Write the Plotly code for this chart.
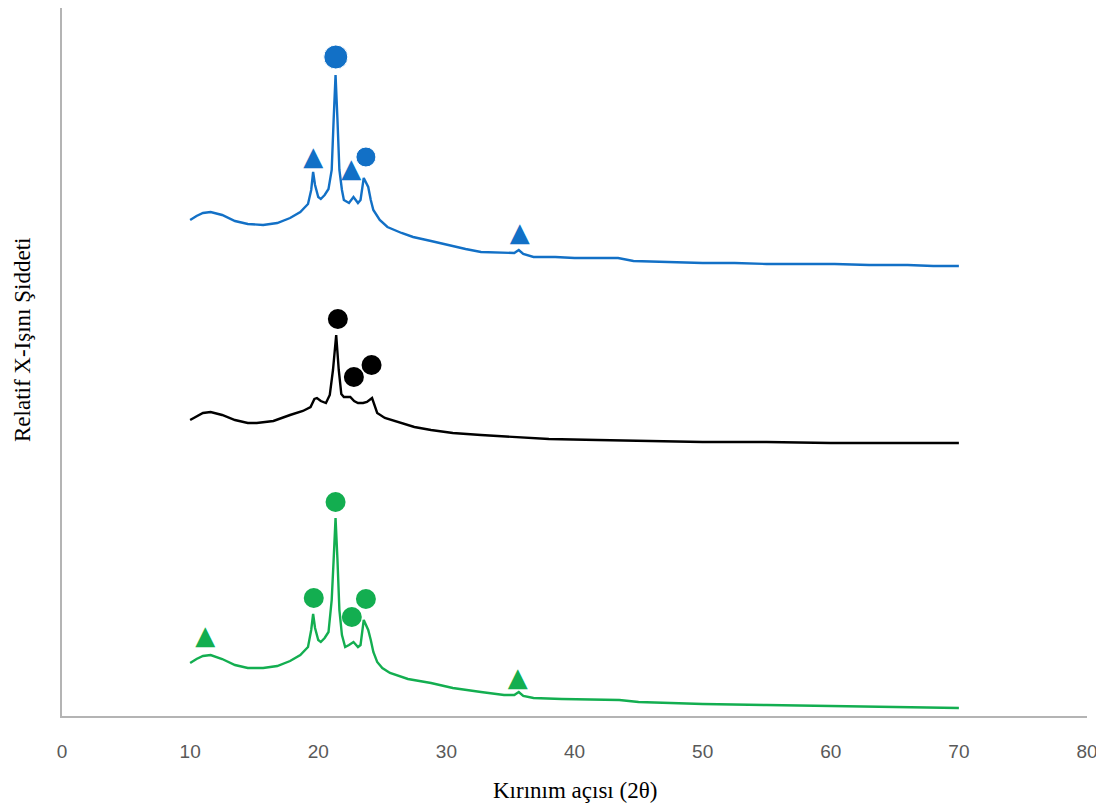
import plotly.graph_objects as go

# ---- Data (intensity in arbitrary offset units) ----
blue_x = [10.0, 10.5, 11.0, 11.6, 12.5, 13.5, 14.5, 15.7, 16.8, 17.8, 18.6, 19.2, 19.45, 19.6, 19.75,
          20.0, 20.2, 20.5, 20.8, 21.05, 21.2, 21.35, 21.5, 21.65, 21.85, 22.0, 22.4, 22.75, 23.1, 23.3,
          23.55, 23.9, 24.1, 24.3, 24.8, 25.4, 26.5, 27.4, 28.8, 30.1, 31.5, 32.7, 34.2, 35.3, 35.65,
          36.0, 36.8, 38.5, 40.0, 41.8, 43.4, 44.6, 47.0, 50.0, 52.5, 55.0, 58.0, 60.3, 63.0, 66.0, 68.0, 70.0]
blue_y = [496, 500, 503, 504, 501, 495, 492, 491, 493, 498, 504, 512, 526, 544, 531,
          519, 517, 521, 527, 546, 596, 641, 596, 546, 526, 516, 513, 519, 513, 516,
          538, 529, 516, 506, 496, 489, 483, 479, 475, 471, 467, 464, 463, 463, 466,
          462, 459, 459, 458, 458, 458, 455, 454, 453, 453, 452, 452, 452, 451, 451, 450, 450]

black_x = [10.0, 10.6, 11.0, 11.6, 12.5, 13.5, 14.5, 15.2, 16.5, 17.8, 18.8, 19.4, 19.7, 19.9, 20.2,
           20.6, 20.9, 21.15, 21.4, 21.6, 21.8, 22.0, 22.5, 22.8, 23.1, 23.5, 23.8, 24.2, 24.4, 24.6,
           25.2, 26.2, 27.5, 28.8, 30.5, 32.7, 35.6, 38.0, 41.8, 45.0, 50.0, 55.0, 60.0, 65.0, 70.0]
black_y = [296, 300, 303, 304, 301, 296, 293, 293, 295, 301, 305, 309, 317, 318, 315,
           313, 321, 346, 381, 346, 322, 319, 319, 315, 313, 313, 314, 318, 311, 303,
           298, 294, 289, 286, 283, 281, 279, 277, 276, 275, 274, 274, 273, 273, 273]

green_x = [10.0, 10.5, 11.0, 11.6, 12.5, 13.5, 14.5, 15.7, 16.8, 17.8, 18.6, 19.2, 19.45, 19.6, 19.75,
           20.0, 20.2, 20.5, 20.8, 21.05, 21.2, 21.35, 21.5, 21.65, 21.85, 22.1, 22.4, 22.75, 23.1, 23.3,
           23.55, 23.9, 24.1, 24.3, 24.6, 25.0, 25.6, 27.0, 28.8, 30.5, 32.7, 34.5, 35.3, 35.65, 36.0,
           36.8, 39.0, 41.8, 43.5, 45.0, 50.0, 55.0, 60.0, 65.0, 70.0]
green_y = [53, 57, 60, 61, 57, 51, 48, 48, 50, 55, 61, 69, 86, 102, 88,
           76, 74, 78, 84, 116, 156, 198, 156, 106, 81, 69, 71, 74, 69, 71,
           96, 86, 76, 64, 54, 48, 43, 37, 33, 28, 24, 21, 21, 24, 20,
           18, 17, 16, 16, 14, 12, 11, 10, 9, 8]

# Peak markers (circle / triangle)
blue_circle_x = [21.37, 23.72]
blue_circle_y = [659, 559]
blue_circle_s = [24, 20]
blue_tri_x = [19.6, 22.57, 35.73]
blue_tri_y = [558, 546, 482]

black_circle_x = [21.53, 22.78, 24.16]
black_circle_y = [397, 339, 351]

green_circle_x = [21.35, 19.65, 22.62, 23.72]
green_circle_y = [214, 118, 99, 117]
green_tri_x = [11.18, 35.57]
green_tri_y = [79, 37]

x_ticks = [0, 10, 20, 30, 40, 50, 60, 70, 80]

BLUE = "#1270C6"
GREEN = "#13AE50"
BLACK = "#000000"

fig = go.Figure()

for xs, ys, c in [(blue_x, blue_y, BLUE), (black_x, black_y, BLACK), (green_x, green_y, GREEN)]:
    fig.add_trace(go.Scatter(x=xs, y=ys, mode="lines", line=dict(color=c, width=2.4),
                             showlegend=False, hoverinfo="skip"))

fig.add_trace(go.Scatter(x=blue_circle_x, y=blue_circle_y, mode="markers",
                         marker=dict(symbol="circle", size=blue_circle_s, color=BLUE, opacity=1),
                         showlegend=False))
fig.add_trace(go.Scatter(x=black_circle_x, y=black_circle_y, mode="markers",
                         marker=dict(symbol="circle", size=20, color=BLACK, opacity=1), showlegend=False))
fig.add_trace(go.Scatter(x=green_circle_x, y=green_circle_y, mode="markers",
                         marker=dict(symbol="circle", size=20, color=GREEN, opacity=1), showlegend=False))

for tx, ty, c in [(blue_tri_x, blue_tri_y, BLUE), (green_tri_x, green_tri_y, GREEN)]:
    fig.add_trace(go.Scatter(x=tx, y=ty, mode="text", text=["▲"] * len(tx),
                             textposition="middle center",
                             textfont=dict(family="DejaVu Sans", size=26, color=c),
                             showlegend=False, hoverinfo="skip"))

fig.update_layout(
    width=1096, height=796,
    margin=dict(l=54, r=17, t=0, b=88),
    plot_bgcolor="white", paper_bgcolor="white",
    xaxis=dict(range=[0, 80], tickvals=x_ticks, ticks="", showgrid=False, zeroline=False,
               showline=True, linecolor="#B4B4B4", linewidth=2,
               tickfont=dict(family="Liberation Sans, sans-serif", size=19, color="#595959"),
               ticklabelstandoff=17, ticklabeloverflow="allow"),
    yaxis=dict(range=[0, 708], showticklabels=False, ticks="", showgrid=False, zeroline=False,
               showline=True, linecolor="#B4B4B4", linewidth=2),
    annotations=[
        dict(text="Kırınım açısı (2θ)", xref="paper", yref="paper", x=0.5, y=0,
             xanchor="center", yanchor="middle", yshift=-74, showarrow=False,
             font=dict(family="Liberation Serif, Times New Roman, serif", size=23, color="#000000")),
        dict(text="Relatif X-Işını Şiddeti", xref="paper", yref="paper", x=0, y=(716 - 340) / 708,
             xanchor="center", yanchor="middle", xshift=-40, textangle=-90, showarrow=False,
             font=dict(family="Liberation Serif, Times New Roman, serif", size=23, color="#000000")),
    ],
)

fig.write_html("out.html")
